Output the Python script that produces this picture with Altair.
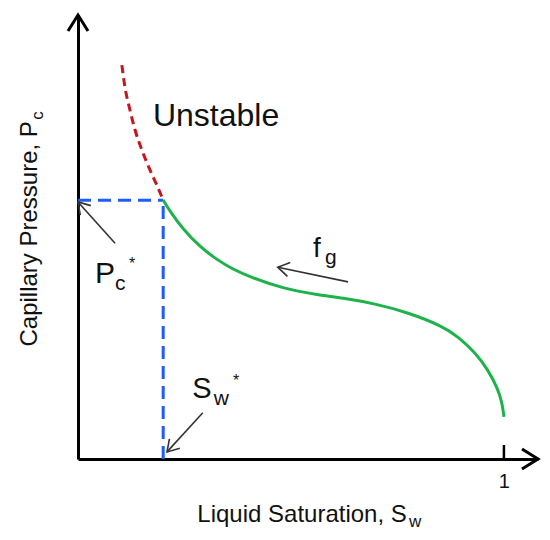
import math
import altair as alt
import pandas as pd

FONT = "Liberation Sans"
TEXT_COLOR = "#111111"

# ---- data (S_w on x, P_c on y, both in relative units) ----
unstable_sw = [0.103, 0.110, 0.122, 0.134, 0.150, 0.169, 0.185, 0.200]
unstable_pc = [0.887, 0.839, 0.786, 0.741, 0.696, 0.651, 0.617, 0.583]

stable_sw = [0.200, 0.216, 0.246, 0.286, 0.326, 0.364, 0.404, 0.481, 0.561, 0.620,
             0.697, 0.775, 0.854, 0.892, 0.932, 0.962, 0.985, 0.996, 1.000]
stable_pc = [0.583, 0.558, 0.518, 0.478, 0.449, 0.427, 0.410, 0.384, 0.370, 0.363,
             0.350, 0.330, 0.300, 0.276, 0.240, 0.202, 0.160, 0.126, 0.095]

sw_star = 0.200
pc_star = 0.583

x_tick_values = [1]
x_max = 1.08
y_max = 1.0

# annotation arrows (tail -> head)
arrow_x0 = [0.087, 0.293, 0.634]
arrow_y0 = [0.486, 0.104, 0.399]
arrow_x1 = [0.000, 0.209, 0.469]
arrow_y1 = [0.579, 0.016, 0.432]

# ---- layout ----
W, H = 460, 444
PAD = {"left": 70, "top": 7, "right": 4, "bottom": 72}
SX = W / x_max
SY = H / y_max

XS = alt.Scale(domain=[0, x_max], nice=False, zero=False)
YS = alt.Scale(domain=[0, y_max], nice=False, zero=False)
X_AX = alt.Axis(values=x_tick_values, ticks=False, labelFontSize=20, labelPadding=12,
                labelFont=FONT, labelColor=TEXT_COLOR, domainColor="black",
                domainWidth=3, grid=False, title=None, labelFlush=False,
                labelOverlap=False, labelExpr="datum.value == 1 ? '1' : ''")
Y_AX = alt.Axis(labels=False, ticks=False, domainColor="black", domainWidth=3,
                grid=False, title=None)


def X(f):
    return alt.X(f, type="quantitative", scale=XS, axis=X_AX)


def Y(f):
    return alt.Y(f, type="quantitative", scale=YS, axis=Y_AX)


CHEVRON = "M-1,1.6L0,0L1,1.6"

# blue dashed guides to the critical point
guides = pd.DataFrame({
    "x0": [0, sw_star], "x1": [sw_star, sw_star],
    "y0": [pc_star, 0], "y1": [pc_star, pc_star],
})
guide_layer = alt.Chart(guides).mark_rule(
    color="#1f5cff", strokeWidth=3, strokeDash=[13, 7]
).encode(x=X("x0"), x2="x1", y=Y("y0"), y2="y1")

unstable = pd.DataFrame({"sw": unstable_sw, "pc": unstable_pc})
unstable_layer = alt.Chart(unstable).mark_line(
    color="#c4161c", strokeWidth=3, strokeDash=[8, 5], interpolate="monotone"
).encode(x=X("sw"), y=Y("pc"), order="sw:Q")

stable = pd.DataFrame({"sw": stable_sw, "pc": stable_pc})
stable_layer = alt.Chart(stable).mark_line(
    color="#1db34a", strokeWidth=3, interpolate="basis"
).encode(x=X("sw"), y=Y("pc"), order="sw:Q")

# inward tick at S_w = 1
tick = pd.DataFrame({"x": x_tick_values, "y0": [0.0], "y1": [14 / SY]})
tick_layer = alt.Chart(tick).mark_rule(color="black", strokeWidth=2.5).encode(
    x=X("x"), y=Y("y0"), y2="y1")

# axis arrowheads
ax_heads = pd.DataFrame({"x": [0, x_max], "y": [y_max, 0], "ang": [0, 90]})
ax_head_layer = alt.Chart(ax_heads).mark_point(
    shape=CHEVRON, filled=False, stroke="black", strokeWidth=3, size=400,
    opacity=1, strokeJoin="miter"
).encode(x=X("x"), y=Y("y"), angle=alt.Angle("ang:Q", scale=None))

# annotation arrows
angles = []
for a, b, c, d in zip(arrow_x0, arrow_y0, arrow_x1, arrow_y1):
    dx = (c - a) * SX
    dy = -(d - b) * SY
    angles.append(math.degrees(math.atan2(dx, -dy)) % 360)
arrows = pd.DataFrame({"x0": arrow_x0, "y0": arrow_y0, "x1": arrow_x1,
                       "y1": arrow_y1, "ang": angles})
arrow_lines = alt.Chart(arrows).mark_rule(color="#333333", strokeWidth=1.6).encode(
    x=X("x0"), y=Y("y0"), x2="x1", y2="y1")
arrow_heads = alt.Chart(arrows).mark_point(
    shape=CHEVRON, filled=False, stroke="#333333", strokeWidth=1.6, size=200, opacity=1
).encode(x=X("x1"), y=Y("y1"), angle=alt.Angle("ang:Q", scale=None))


def label(text, x, y, size, align="left", angle=0):
    df = pd.DataFrame({"t": [text], "x": [x], "y": [y]})
    return alt.Chart(df).mark_text(
        font=FONT, fontSize=size, color=TEXT_COLOR, align=align,
        baseline="alphabetic", angle=angle
    ).encode(x=X("x"), y=Y("y"), text="t")


texts = [
    label("Unstable", 0.176, 0.750, 32),
    label("P", 0.040, 0.396, 30),
    label("c", 0.087, 0.381, 21),
    label("*", 0.120, 0.428, 16),
    label("S", 0.268, 0.137, 29),
    label("w", 0.319, 0.122, 21),
    label("*", 0.364, 0.164, 16),
    label("f", 0.552, 0.455, 28),
    label("g", 0.580, 0.439, 21),
    # axis titles with subscripts
    label("Liquid Saturation, S", 0.772, -0.142, 24, align="right"),
    label("w", 0.777, -0.153, 17),
    label("Capillary Pressure, P", -0.096, 0.761, 24, align="right", angle=270),
    label("c", -0.082, 0.764, 17, angle=270),
]

chart = alt.layer(
    guide_layer, unstable_layer, stable_layer, tick_layer, ax_head_layer,
    arrow_lines, arrow_heads, *texts
).properties(
    width=W, height=H, padding=PAD, autosize=alt.AutoSizeParams(type="none"),
    background="white"
).configure_view(stroke=None)

chart.save("out.html", embed_options={"renderer": "svg", "actions": False})
